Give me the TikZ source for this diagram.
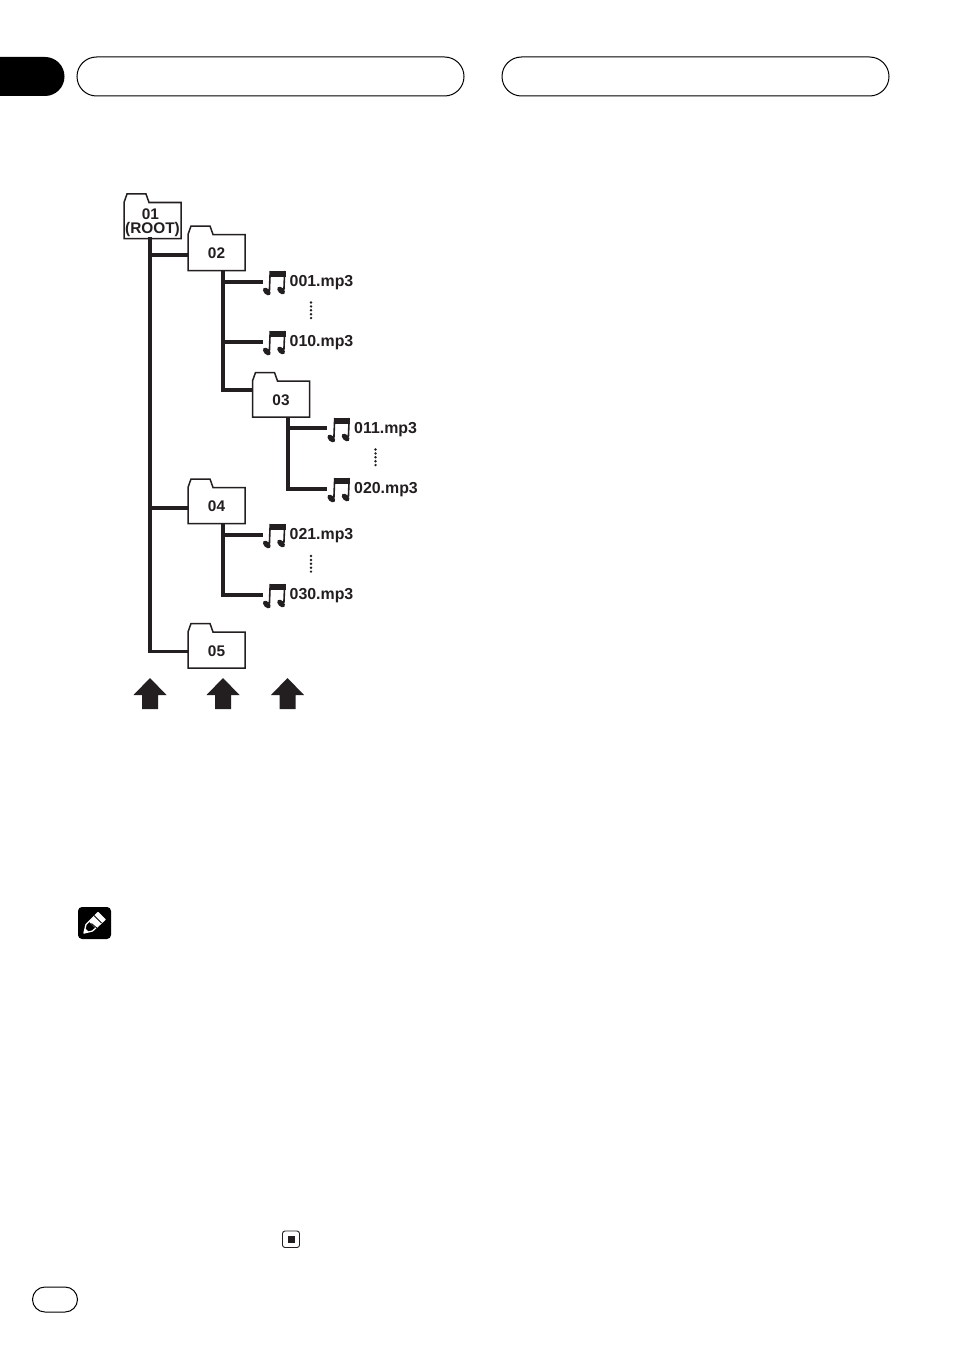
\documentclass[tikz,border=0pt]{standalone}
\usepackage{fontspec}
\setmainfont{Liberation Sans}
\definecolor{ink}{HTML}{231F20}
\tikzset{
  x=1pt,y=-1pt,
  trunk/.style={draw=ink,line width=3.4pt,line cap=butt,line join=miter},
  twig/.style={draw=ink,line width=3.2pt},
  fold/.style={draw=ink,line width=1.5pt,fill=white,line join=miter},
  foldbody/.style={draw=none,minimum width=57pt,minimum height=36pt,inner sep=0pt,font=\fontsize{15.4}{13.6}\selectfont\bfseries,text=ink,align=center},
  fname/.style={inner sep=0pt,anchor=west,font=\fontsize{15.9}{16}\selectfont\bfseries,text=ink},
  iconbox/.style={inner sep=0pt,minimum width=24pt,minimum height=24pt},
  pill/.style={draw=black,line width=1pt,fill=white,rounded corners=19.5pt},
  uparrow/.style={fill=ink,draw=none}
}
\newcommand{\folderbox}[5][]{%
  \path[fold] (#3,#4+8.5) -- (#3+3,#4) -- (#3+22,#4) -- (#3+25,#4+8.5) -- (#3+57,#4+8.5) -- (#3+57,#4+44.5) -- (#3,#4+44.5) -- cycle;
  \node[foldbody,#1] (#2) at (#3+28.5,#4+27.5) {#5};
}
\newcommand{\noteicon}[3]{%
  \node[iconbox] (#1) at (#2+12,#3+12) {};
  \fill[ink] (#2+7,#3) rectangle (#2+22.5,#3+5.5);
  \draw[ink,line width=1.6pt] (#2+7.2,#3) -- (#2+6.4,#3+20) (#2+21.7,#3) -- (#2+20.9,#3+19);
  \fill[ink,rotate around={-45:(#2+3.8,#3+20.5)}] (#2+3.8,#3+20.5) ellipse [x radius=4.6pt,y radius=2.9pt];
  \fill[ink,rotate around={-45:(#2+18.1,#3+19.5)}] (#2+18.1,#3+19.5) ellipse [x radius=4.6pt,y radius=2.9pt];
}
\newcommand{\vdotsat}[2]{%
  \foreach \k in {0,1,2,3,4} {\fill[ink] (#1,#2+\k*3.9) circle (1.35pt);}
}
\newcommand{\bigarrow}[1]{%
  \path[uparrow] (#1,678) -- (#1+16.5,695) -- (#1+8,695) -- (#1+8,709) -- (#1-8,709) -- (#1-8,695) -- (#1-16.5,695) -- cycle;
}
\begin{document}
\begin{tikzpicture}
\useasboundingbox (0,0) rectangle (954,1351);
\fill[white] (0,0) rectangle (954,1351);
\fill[black] (0,57) -- (45,57) arc[start angle=90,end angle=-90,radius=19.5pt] -- (0,96) -- cycle;
\path[pill] (77,57) rectangle (464,96);
\path[pill] (502,57) rectangle (889,96);
\coordinate (j1) at (150,255);
\coordinate (j4) at (150,508);
\coordinate (c5) at (150,651.5);
\coordinate (c2a) at (223,282);
\coordinate (c2b) at (223,342);
\coordinate (c2c) at (223,390);
\coordinate (c3a) at (288,428);
\coordinate (c3b) at (288,489);
\coordinate (c4a) at (223,535);
\coordinate (c4b) at (223,595);
\folderbox[yshift=-1pt]{f01}{124}{194}{\makebox[0pt]{\hspace{-4pt}01}\\(ROOT)}
\folderbox{f02}{188}{226}{02}
\folderbox{f03}{252.5}{372.5}{03}
\folderbox{f04}{188}{479}{04}
\folderbox{f05}{188}{623.5}{05}
\noteicon{n001}{263}{271}
\noteicon{n010}{263}{331}
\noteicon{n011}{327.5}{418}
\noteicon{n020}{327.5}{478}
\noteicon{n021}{263}{524}
\noteicon{n030}{263}{584}
\node[fname] (t001) at (289.5,283) {001.mp3};
\node[fname] (t010) at (289.5,343) {010.mp3};
\node[fname] (t011) at (354,430) {011.mp3};
\node[fname] (t020) at (354,490) {020.mp3};
\node[fname] (t021) at (289.5,536) {021.mp3};
\node[fname] (t030) at (289.5,596) {030.mp3};
\draw[trunk] (150,237) -- (c5) -- (f05.west |- c5);
\draw[trunk,line width=4.2pt] (j1) -- (f02.west |- j1);
\draw[trunk] (j4) -- (f04.west |- j4);
\draw[trunk] (223,270) -- (c2c) -- (f03.west |- c2c);
\draw[twig] (c2a) -- (n001.west |- c2a);
\draw[twig] (c2b) -- (n010.west |- c2b);
\draw[trunk] (288,417) -- (c3b) -- (n020.west |- c3b);
\draw[trunk,line width=4pt] (c3a) -- (n011.west |- c3a);
\draw[trunk] (223,523) -- (c4b) -- (n030.west |- c4b);
\draw[twig] (c4a) -- (n021.west |- c4a);
\vdotsat{311}{302.5}
\vdotsat{375.5}{449.5}
\vdotsat{311}{556}
\bigarrow{150}
\bigarrow{223}
\bigarrow{287.5}
\fill[black,rounded corners=4pt] (78,907) rectangle (111,939);
\draw[white,line width=1.3pt,line join=round] (84,933) -- (86,924.5) -- (98,912.5) -- (105,919.5) -- (92.5,931) -- cycle;
\fill[white] (89,921.5) -- (98,912.5) -- (105,919.5) -- (96,928.5) -- cycle;
\draw[black,line width=0.8pt] (91.5,923.5) -- (98,929) ;
\draw[black,line width=0.8pt] (94,915.5) -- (101.5,923);
\fill[white] (84,933) -- (85.3,928.5) -- (88.5,931.7) -- cycle;
\draw[ink,line width=0.9pt,rounded corners=2.5pt] (282.5,1231) rectangle (299.5,1247.5);
\fill[ink] (287.5,1236) rectangle (294.5,1242.5);
\path[pill,rounded corners=12.5pt] (32.5,1287) rectangle (77.5,1312);
\end{tikzpicture}
\end{document}
